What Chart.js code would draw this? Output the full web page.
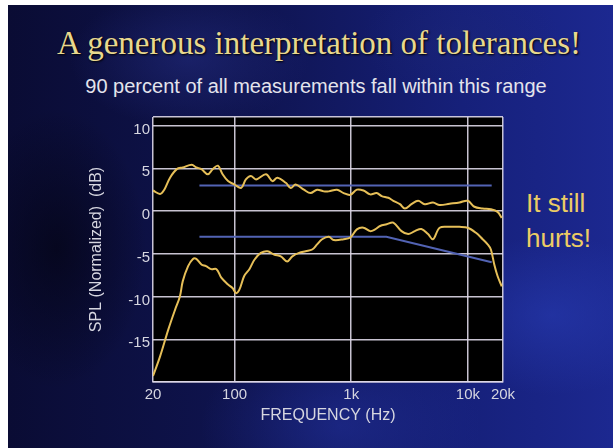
<!DOCTYPE html>
<html>
<head>
<meta charset="utf-8">
<script src="https://cdn.jsdelivr.net/npm/chart.js@4.4.1/dist/chart.umd.min.js"></script>
<style>
  html, body { margin: 0; padding: 0; background: #fff; width: 613px; height: 448px; overflow: hidden; }
  #slide {
    position: absolute; left: 8px; top: 5px; width: 605px; height: 443px;
    background:
      radial-gradient(ellipse 120px 80px at 90% 70%, rgba(40,60,180,0.55), rgba(40,60,180,0) 100%),
      radial-gradient(ellipse 140px 90px at 55% 95%, rgba(35,50,160,0.5), rgba(35,50,160,0) 100%),
      radial-gradient(ellipse 120px 70px at 30% 12%, rgba(40,50,140,0.45), rgba(40,50,140,0) 100%),
      radial-gradient(ellipse 90px 140px at 8% 55%, rgba(4,4,20,0.7), rgba(4,4,20,0) 100%),
      radial-gradient(ellipse 100px 60px at 75% 8%, rgba(30,40,120,0.4), rgba(30,40,120,0) 100%),
      linear-gradient(90deg, #0a0c34 0%, #0f1450 40%, #16207a 75%, #1c2890 100%);
  }
  #wrap { position: absolute; left: 0; top: 0; width: 613px; height: 448px; }
  .txt { position: absolute; white-space: nowrap; line-height: 1; }
  #title {
    left: 319px; top: 27px; transform: translateX(-50%);
    font-family: "Liberation Serif", "Times New Roman", serif; font-size: 33px;
    color: #e8d88e; text-shadow: 1px 1px 2px #000;
  }
  #subtitle {
    left: 316px; top: 76px; transform: translateX(-50%);
    font-family: "Liberation Sans", Arial, sans-serif; font-size: 20px; color: #e4e4ec;
  }
  .side {
    left: 526px; font-family: "Liberation Sans", Arial, sans-serif; font-size: 26px; color: #eccc64;
  }
</style>
</head>
<body>
<div id="slide"></div>
<div class="txt" id="title">A generous interpretation of tolerances!</div>
<div class="txt" id="subtitle">90 percent of all measurements fall within this range</div>
<div class="txt side" style="top:190px">It still</div>
<div class="txt side" style="top:225px">hurts!</div>
<div id="wrap"><canvas id="chart" width="613" height="448"></canvas></div>
<script>
// eje de frecuencia (Hz) y niveles (dB)
const xTicks = [20, 100, 1000, 10000, 20000];
const xTickLabels = ['20', '100', '1k', '10k', '20k'];
const yTicks = [-15, -10, -5, 0, 5, 10];

// curva superior del rango del 90 %
const upperFreq = [20, 23, 25, 28, 32, 36, 43, 47, 52, 59, 65, 72, 79, 88, 100, 114, 125, 138, 153, 186, 211, 233, 275, 303, 334, 393, 448, 510, 582, 642, 755, 861, 982, 1118, 1274, 1453, 1654, 1824, 2080, 2294, 2616, 2886, 3284, 3744, 4270, 5024, 5728, 6968, 8478, 9976, 11372, 13384, 15746, 17960, 19500];
const upperDb = [2.4, 2.0, 2.5, 3.9, 4.9, 5.1, 5.4, 5.1, 4.9, 4.3, 4.9, 5.3, 4.3, 3.5, 3.1, 2.7, 3.7, 4.1, 3.7, 4.3, 3.5, 3.9, 3.3, 2.7, 3.1, 2.5, 2.1, 2.5, 2.3, 2.3, 2.5, 2.1, 1.9, 2.5, 2.4, 1.95, 2.1, 1.75, 1.55, 1.2, 0.8, 0.3, 0.8, 1.2, 0.8, 1.0, 0.7, 0.85, 1.0, 1.2, 0.5, 0.3, 0.2, -0.1, -0.8];

// curva inferior del rango del 90 %
const lowerFreq = [20, 23, 27, 31, 34, 36, 40, 44, 47, 52, 57, 63, 70, 77, 88, 96, 103, 110, 121, 134, 148, 168, 192, 218, 249, 283, 313, 357, 407, 463, 510, 563, 642, 708, 861, 982, 1118, 1274, 1453, 1602, 1768, 2012, 2294, 2698, 3078, 3510, 3994, 4556, 5024, 5728, 6968, 8478, 9976, 11734, 13384, 14766, 15746, 16836, 17960, 19500];
const lowerDb = [-19.3, -17, -13.9, -11.5, -10, -8.2, -6.45, -5.6, -5.6, -6.25, -6.45, -6.8, -6.8, -7.8, -8.6, -9.0, -9.6, -9.2, -7.6, -6.8, -5.7, -4.9, -4.7, -5.1, -5.3, -5.9, -5.3, -4.9, -4.7, -4.5, -3.9, -3.3, -3.0, -3.4, -3.3, -3.1, -2.15, -1.95, -2.35, -2.15, -1.75, -1.55, -1.35, -2.35, -2.7, -2.35, -2.1, -2.7, -3.3, -1.95, -1.85, -1.85, -1.95, -2.55, -3.3, -3.9, -4.5, -6.25, -7.6, -8.8];

// líneas de tolerancia (azules)
const tolUpperFreq = [50, 16000];
const tolUpperDb = [3, 3];
const tolLowerFreq = [50, 2000, 16000];
const tolLowerDb = [-3, -3, -6];

const toPoints = (xs, ys) => xs.map((x, i) => ({ x: x, y: ys[i] }));

const COLOR_CURVA = '#e6bf58';
const COLOR_TOL = '#5263b4';
const COLOR_GRID = 'rgba(222,216,232,0.9)';
const FUENTE = "'Liberation Sans', Arial, sans-serif";

// fondo negro del área de trazado
const fondoPlot = {
    id: 'fondoPlot',
    beforeDraw(chart) {
        const a = chart.chartArea;
        const ctx = chart.ctx;
        ctx.save();
        ctx.fillStyle = '#000';
        ctx.fillRect(a.left, a.top, a.right - a.left, a.bottom - a.top);
        ctx.restore();
    }
};

new Chart(document.getElementById('chart'), {
    type: 'line',
    data: {
        datasets: [
            { data: toPoints(upperFreq, upperDb), borderColor: COLOR_CURVA, borderWidth: 2, pointRadius: 0, tension: 0.35, order: 0 },
            { data: toPoints(lowerFreq, lowerDb), borderColor: COLOR_CURVA, borderWidth: 2, pointRadius: 0, tension: 0.35, order: 0 },
            { data: toPoints(tolUpperFreq, tolUpperDb), borderColor: COLOR_TOL, borderWidth: 2, pointRadius: 0, tension: 0, order: 1 },
            { data: toPoints(tolLowerFreq, tolLowerDb), borderColor: COLOR_TOL, borderWidth: 2, pointRadius: 0, tension: 0, order: 1 }
        ]
    },
    options: {
        responsive: false,
        animation: false,
        events: [],
        layout: { padding: { left: 0, right: 110, top: 117, bottom: 0 } },
        plugins: { legend: { display: false }, tooltip: { enabled: false } },
        scales: {
            x: {
                type: 'logarithmic',
                min: 20,
                max: 20000,
                afterBuildTicks: axis => { axis.ticks = xTicks.map(v => ({ value: v })); },
                afterFit: axis => { axis.height = 66; },
                grid: { color: COLOR_GRID, lineWidth: 1.5, drawTicks: false },
                border: { color: COLOR_GRID, width: 1.5 },
                ticks: {
                    color: '#d6d6e0',
                    font: { family: FUENTE, size: 15 },
                    padding: 4,
                    maxRotation: 0,
                    autoSkip: false,
                    callback: (v, i) => xTickLabels[i]
                },
                title: {
                    display: true,
                    text: 'FREQUENCY (Hz)',
                    color: '#d6d6e0',
                    font: { family: FUENTE, size: 16 },
                    padding: { top: 0, bottom: 23 }
                }
            },
            y: {
                type: 'linear',
                min: -20,
                max: 11,
                afterBuildTicks: axis => { axis.ticks = [-20].concat(yTicks, [11]).map(v => ({ value: v })); },
                afterFit: axis => { axis.width = 153; },
                grid: { color: COLOR_GRID, lineWidth: 1.5, drawTicks: false },
                border: { display: false },
                ticks: {
                    color: '#d6d6e0',
                    font: { family: FUENTE, size: 15 },
                    padding: 3,
                    labelOffset: 4,
                    callback: v => yTicks.includes(v) ? String(v) : ''
                },
                title: {
                    display: true,
                    text: 'SPL (Normalized)  (dB)',
                    color: '#d6d6e0',
                    font: { family: FUENTE, size: 16 },
                    padding: { top: 87, bottom: 0 }
                }
            }
        }
    },
    plugins: [fondoPlot]
});
</script>
</body>
</html>
